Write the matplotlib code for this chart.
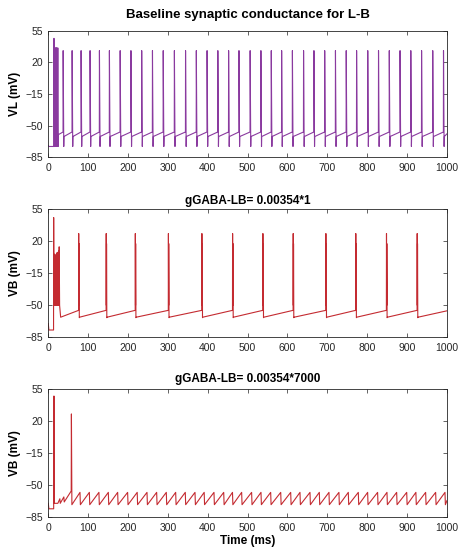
import matplotlib
matplotlib.use("Agg")
import matplotlib.pyplot as plt
import numpy as np

plt.rcParams['font.family'] = ['Liberation Sans', 'DejaVu Sans']

# --- VL trace (baseline conductance) ---
vl_rest = -73.0
vl_first_spike = (14.3, 46.6)
vl_burst_peaks = [36, 36, 35, 36, 36, 35, 36]        # dense burst, 16-24 ms
vl_burst_window = (16.0, 24.5)
vl_spike_times = [37, 59.5, 82, 104.5, 128, 153, 180, 207, 234, 261, 288, 316,
                  344, 371, 398, 425, 452, 478, 506, 533, 559, 585, 612, 640,
                  666, 693, 720, 747, 773, 801, 828, 855, 882, 909, 936, 964, 991]
vl_peak = 33.0
vl_trough = -73.0
vl_reset = -62.0
vl_ramp_top = -57.0

# --- VB trace, gGABA-LB = 0.00354*1 ---
vb1_rest = -77.0
vb1_first_spike = (13.5, 46.0)
vb1_burst_peaks = [6, 5, 3, 2, 1, 1, 2, 3, 4, 5, 6, 7, 8, 6, 5, 4, 3, 4, 6, 8, 10, 14]
vb1_burst_low = -50.0
vb1_burst_window = (16.0, 27.6)
vb1_spike_times = [76, 145, 218, 301, 385, 462, 538, 614, 696, 771, 848, 925]
vb1_peak = 28.5
vb1_second_peak = 17.5
vb1_reset = -63.0
vb1_ramp_top = -55.5

# --- VB trace, gGABA-LB = 0.00354*7000 ---
vb2_rest = -76.0
vb2_early_t = [0, 1.5, 13.5, 14.2, 15.2, 24, 29, 30, 39, 40, 57.5, 58.0, 59.2]
vb2_early_v = [-70, -76, -76, 47.7, -70, -70, -65, -70, -63, -68.5, -56.5, 28.0, -71.5]
vb2_saw_times = [79.5, 103, 127, 150.6, 174, 199, 223, 247.6, 271.8, 296, 319.5,
                 343.6, 368, 391, 415.6, 440, 462, 485, 510, 533.5, 557.8, 583,
                 608, 631.3, 656.4, 679.8, 704, 729, 752.5, 777.6, 801, 826,
                 849.5, 873.8, 899, 922, 946.5, 971.6, 995]
vb2_saw_top = -58.0
vb2_saw_bottom = -71.5

T_END = 1000.0


def burst(t0, t1, peaks, low):
    # alternate between low and peak values across the burst window
    ts, vs = [], []
    step = (t1 - t0) / len(peaks)
    for i, p in enumerate(peaks):
        ts += [t0 + i * step, t0 + (i + 0.5) * step]
        vs += [low, p]
    return ts, vs


def spike_train(ts, vs, times, top, peak, trough, reset, second=None):
    for s in times:
        ts.append(s); vs.append(top)
        ts.append(s + 0.3); vs.append(peak)
        if second is not None:
            ts.append(s + 0.8); vs.append(-50)
            ts.append(s + 1.1); vs.append(second)
            ts.append(s + 1.6); vs.append(-50)
        ts.append(s + 1.8); vs.append(trough)
        ts.append(s + 2.3); vs.append(reset)
    return ts, vs


# VL
t_l = [0, 1.5, vl_first_spike[0] - 0.3, vl_first_spike[0], vl_first_spike[0] + 0.8]
v_l = [-72, vl_rest, vl_rest, vl_first_spike[1], vl_rest]
bt, bv = burst(*vl_burst_window, vl_burst_peaks, vl_trough)
t_l += bt; v_l += bv
t_l += [vl_burst_window[1], vl_burst_window[1] + 0.5]
v_l += [vl_trough, -60]
t_l, v_l = spike_train(t_l, v_l, vl_spike_times, vl_ramp_top, vl_peak, vl_trough, vl_reset)
t_l.append(T_END); v_l.append(-59)

# VB, weak inhibition
t_b1 = [0, 1.5, vb1_first_spike[0] - 0.3, vb1_first_spike[0], vb1_first_spike[0] + 0.8]
v_b1 = [-70, vb1_rest, vb1_rest, vb1_first_spike[1], vb1_burst_low]
bt, bv = burst(*vb1_burst_window, vb1_burst_peaks, vb1_burst_low)
t_b1 += bt; v_b1 += bv
t_b1 += [vb1_burst_window[1] + 0.8, vb1_burst_window[1] + 3.4]
v_b1 += [vb1_burst_low, vb1_reset]
t_b1, v_b1 = spike_train(t_b1, v_b1, vb1_spike_times, vb1_ramp_top, vb1_peak,
                         vb1_reset - 0.5, vb1_reset, second=vb1_second_peak)
t_b1.append(T_END); v_b1.append(-56)

# VB, strong inhibition
t_b2 = list(vb2_early_t)
v_b2 = list(vb2_early_v)
for s in vb2_saw_times:
    t_b2 += [s, s + 1.0]
    v_b2 += [vb2_saw_top, vb2_saw_bottom]
t_b2.append(T_END); v_b2.append(-67)

purple = '#8A3A9F'
red = '#C42B31'

fig = plt.figure(figsize=(4.59, 5.52), dpi=100)
left, width = 0.1052, 0.8686
ax1 = fig.add_axes([left, 0.7150, width, 0.2293])
ax2 = fig.add_axes([left, 0.3889, width, 0.2319])
ax3 = fig.add_axes([left, 0.0634, width, 0.2313])

ax1.plot(t_l, v_l, color=purple, lw=0.8)
ax2.plot(t_b1, v_b1, color=red, lw=0.8)
ax3.plot(t_b2, v_b2, color=red, lw=0.8)

for ax in (ax1, ax2, ax3):
    ax.set_xlim(0, 1000)
    ax.set_ylim(-85, 55)
    ax.set_xticks(np.arange(0, 1001, 100))
    ax.set_yticks([-85, -50, -15, 20, 55])
    ax.tick_params(direction='in', length=3, width=0.5, colors='#262626',
                   labelsize=7.5, top=True, right=True, pad=4)
    for sp in ax.spines.values():
        sp.set_linewidth(0.6)
        sp.set_color('#262626')

ax1.set_ylabel('VL (mV)', fontsize=8.5, fontweight='bold', labelpad=3)
ax2.set_ylabel('VB (mV)', fontsize=8.5, fontweight='bold', labelpad=3)
ax3.set_ylabel('VB (mV)', fontsize=8.5, fontweight='bold', labelpad=3)
ax3.set_xlabel('Time (ms)', fontsize=8.5, fontweight='bold', labelpad=2)

ax1.set_title('Baseline synaptic conductance for L-B', fontsize=9.5,
              fontweight='bold', pad=9)
ax2.set_title('gGABA-LB= 0.00354*1', fontsize=8.5, fontweight='bold', pad=4)
ax3.set_title('gGABA-LB= 0.00354*7000', fontsize=8.5, fontweight='bold', pad=5)

fig.savefig('out.png', dpi=100)
